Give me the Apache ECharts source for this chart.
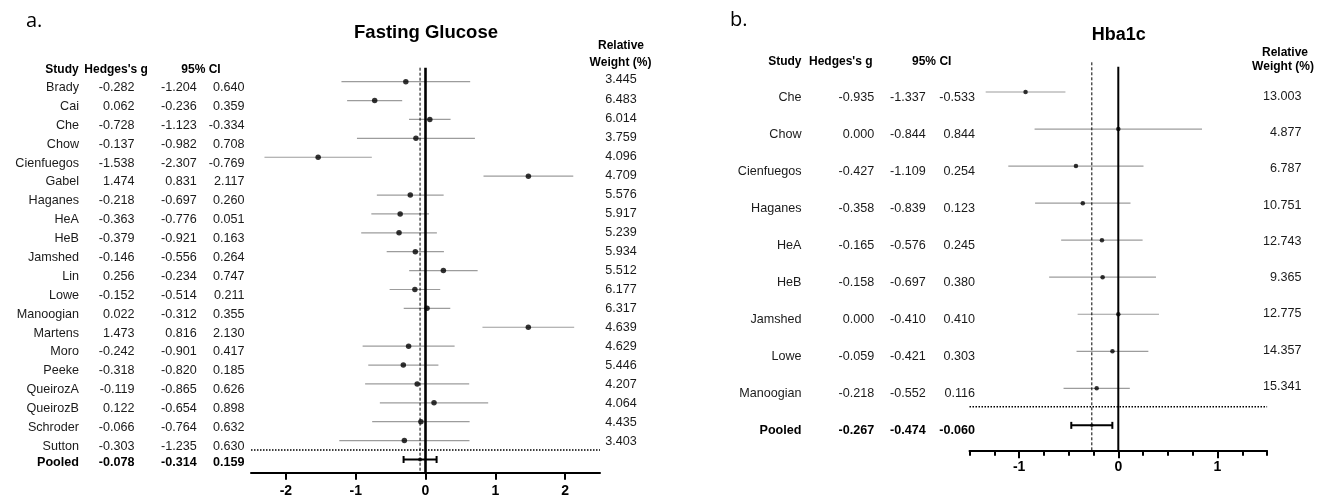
<!DOCTYPE html>
<html><head><meta charset="utf-8">
<script src="https://cdn.jsdelivr.net/npm/echarts@6/dist/echarts.min.js"></script>
<style>html,body{margin:0;padding:0;background:#fff}#c{width:1317px;height:495px}</style>
</head><body><div id="c"></div>
<script>
// ---------- Panel a: Fasting Glucose ----------
const studiesA = ['Brady','Cai','Che','Chow','Cienfuegos','Gabel','Haganes','HeA','HeB','Jamshed','Lin','Lowe','Manoogian','Martens','Moro','Peeke','QueirozA','QueirozB','Schroder','Sutton'];
const gA  = [-0.282,0.062,-0.728,-0.137,-1.538,1.474,-0.218,-0.363,-0.379,-0.146,0.256,-0.152,0.022,1.473,-0.242,-0.318,-0.119,0.122,-0.066,-0.303];
const loA = [-1.204,-0.236,-1.123,-0.982,-2.307,0.831,-0.697,-0.776,-0.921,-0.556,-0.234,-0.514,-0.312,0.816,-0.901,-0.820,-0.865,-0.654,-0.764,-1.235];
const hiA = [0.640,0.359,-0.334,0.708,-0.769,2.117,0.260,0.051,0.163,0.264,0.747,0.211,0.355,2.130,0.417,0.185,0.626,0.898,0.632,0.630];
const weightA = [3.445,6.483,6.014,3.759,4.096,4.709,5.576,5.917,5.239,5.934,5.512,6.177,6.317,4.639,4.629,5.446,4.207,4.064,4.435,3.403];
// row on which each study's mark is drawn in the figure (Cai and Che marks appear swapped in the original)
const markRowA = [0,2,1,3,4,5,6,7,8,9,10,11,12,13,14,15,16,17,18,19];
const pooledA = [-0.078,-0.314,0.159]; // g, lo, hi
const ticksA = [-2,-1,0,1,2];

// ---------- Panel b: Hba1c ----------
const studiesB = ['Che','Chow','Cienfuegos','Haganes','HeA','HeB','Jamshed','Lowe','Manoogian'];
const gB  = [-0.935,0.000,-0.427,-0.358,-0.165,-0.158,0.000,-0.059,-0.218];
const loB = [-1.337,-0.844,-1.109,-0.839,-0.576,-0.697,-0.410,-0.421,-0.552];
const hiB = [-0.533,0.844,0.254,0.123,0.245,0.380,0.410,0.303,0.116];
const weightB = [13.003,4.877,6.787,10.751,12.743,9.365,12.775,14.357,15.341];
const pooledB = [-0.267,-0.474,-0.060];
const ticksB = [-1,0,1];

const FONT = '"Liberation Sans", Arial, Helvetica, sans-serif';
const BODY = '12.6px ' + FONT;
const chart = echarts.init(document.getElementById('c'), null, {renderer:'canvas', width:1317, height:495});

const idx = n => Array.from({length:n}, (_, i) => i);
const f3 = v => v.toFixed(3);

function ciSeries(xi, yi, lo, hi, rows, color, width, z) {
  return {type:'custom', xAxisIndex:xi, yAxisIndex:yi, silent:true, clip:false, z:z,
    data: lo.map((v,i)=>[v, hi[i], rows[i]]),
    renderItem:(p,api)=>{
      const a = api.coord([api.value(0), api.value(2)]);
      const b = api.coord([api.value(1), api.value(2)]);
      return {type:'line', shape:{x1:a[0],y1:a[1],x2:b[0],y2:b[1]}, style:{stroke:color, lineWidth:width}};
    }};
}
function vline(xi, yi, x, yTop, yBot, width, dash, z) {
  return {type:'custom', xAxisIndex:xi, yAxisIndex:yi, silent:true, clip:false, z:z,
    data:[[x, yTop, yBot]],
    renderItem:(p,api)=>{
      const a = api.coord([api.value(0), api.value(1)]);
      const b = api.coord([api.value(0), api.value(2)]);
      return {type:'line', shape:{x1:a[0],y1:a[1],x2:b[0],y2:b[1]}, style:{stroke:'#000', lineWidth:width, lineDash:dash}};
    }};
}
function hline(xi, yi, x0, x1, row, z) {
  return {type:'custom', xAxisIndex:xi, yAxisIndex:yi, silent:true, clip:false, z:z,
    data:[[x0, x1, row]],
    renderItem:(p,api)=>{
      const a = api.coord([api.value(0), api.value(2)]);
      const b = api.coord([api.value(1), api.value(2)]);
      return {type:'line', shape:{x1:a[0],y1:a[1],x2:b[0],y2:b[1]}, style:{stroke:'#000', lineWidth:1.5, lineDash:[1.5,1.5]}};
    }};
}
function pooledBar(xi, yi, pooled, row, capH, z) {
  return {type:'custom', xAxisIndex:xi, yAxisIndex:yi, silent:true, clip:false, z:z,
    data:[[pooled[1], pooled[2], row]],
    renderItem:(p,api)=>{
      const a = api.coord([api.value(0), api.value(2)]);
      const b = api.coord([api.value(1), api.value(2)]);
      const st = {stroke:'#000', lineWidth:2};
      return {type:'group', children:[
        {type:'line', shape:{x1:a[0],y1:a[1],x2:b[0],y2:b[1]}, style:st},
        {type:'line', shape:{x1:a[0],y1:a[1]-capH,x2:a[0],y2:a[1]+capH}, style:st},
        {type:'line', shape:{x1:b[0],y1:b[1]-capH,x2:b[0],y2:b[1]+capH}, style:st}
      ]};
    }};
}
function colSeries(xi, yi, rows, texts, x, align, dy, bold) {
  return {type:'custom', xAxisIndex:xi, yAxisIndex:yi, silent:true, clip:false, z:6,
    data: rows.map(r=>[0, r]),
    renderItem:(p,api)=>{
      const y = api.coord([0, api.value(1)])[1] + dy;
      return {type:'text', x:x, y:y, style:{text:texts[p.dataIndex], fill: bold ? '#000' : '#1a1a1a',
        font:(bold?'bold ':'')+BODY, align:align, verticalAlign:'middle'}};
    }};
}
function points(xi, yi, g, rows, size) {
  return {type:'scatter', xAxisIndex:xi, yAxisIndex:yi, silent:true, z:8, symbol:'circle', symbolSize:size,
    itemStyle:{color:'#000'}, data: g.map((v,i)=>[v, rows[i]])};
}

const nA = studiesA.length, nB = studiesB.length;
const rowsA = idx(nA), rowsB = idx(nB);
const pooledRowA = nA, pooledRowB = nB;
const wRowsA = rowsA.map(i => -0.09 + 1.0085*i);
const wRowsB = rowsB.map(i => 0.116 + 0.9787*i);

const YA = [-0.741, 20.70];
const YB = [-0.802, 9.684];

const series = [
  // panel a
  ciSeries(0,0, loA, hiA, markRowA, '#9c9c9c', 1.2, 2),
  vline(0,0, 0, YA[0], YA[1], 2.6, null, 4),
  vline(0,0, pooledA[0], YA[0], YA[1], 1, [3,2], 3),
  hline(0,0, -2.5, 2.5, nA-0.5, 3),
  pooledBar(0,0, pooledA, pooledRowA, 3.5, 5),
  points(0,0, gA, markRowA, 5.5),
  points(0,0, [pooledA[0]], [pooledRowA], 4),
  colSeries(0,0, rowsA, studiesA, 79, 'right', 5.8, false),
  colSeries(0,0, rowsA, gA.map(f3), 134.5, 'right', 5.8, false),
  colSeries(0,0, rowsA, loA.map(f3), 196.7, 'right', 5.8, false),
  colSeries(0,0, rowsA, hiA.map(f3), 244.5, 'right', 5.8, false),
  colSeries(0,0, wRowsA, weightA.map(f3), 636.7, 'right', 0, false),
  colSeries(0,0, [pooledRowA], ['Pooled'], 79, 'right', 3, true),
  colSeries(0,0, [pooledRowA], [f3(pooledA[0])], 134.5, 'right', 3, true),
  colSeries(0,0, [pooledRowA], [f3(pooledA[1])], 196.7, 'right', 3, true),
  colSeries(0,0, [pooledRowA], [f3(pooledA[2])], 244.5, 'right', 3, true),
  // panel b
  ciSeries(1,1, loB, hiB, rowsB, '#9c9c9c', 1.2, 2),
  vline(1,1, 0, -0.683, YB[1], 2, null, 4),
  vline(1,1, pooledB[0], YB[0], YB[1], 1, [3,2], 3),
  hline(1,1, -1.5, 1.5, nB-0.5, 3),
  pooledBar(1,1, pooledB, pooledRowB, 3.5, 5),
  points(1,1, gB, rowsB, 4.5),
  points(1,1, [pooledB[0]], [pooledRowB], 3.5),
  colSeries(1,1, rowsB, studiesB, 801.5, 'right', 5.5, false),
  colSeries(1,1, rowsB, gB.map(f3), 874.3, 'right', 5.5, false),
  colSeries(1,1, rowsB, loB.map(f3), 925.7, 'right', 5.5, false),
  colSeries(1,1, rowsB, hiB.map(f3), 975, 'right', 5.5, false),
  colSeries(1,1, wRowsB, weightB.map(f3), 1301.5, 'right', 0, false),
  colSeries(1,1, [pooledRowB], ['Pooled'], 801.5, 'right', 4.7, true),
  colSeries(1,1, [pooledRowB], [f3(pooledB[0])], 874.3, 'right', 4.7, true),
  colSeries(1,1, [pooledRowB], [f3(pooledB[1])], 925.7, 'right', 4.7, true),
  colSeries(1,1, [pooledRowB], [f3(pooledB[2])], 975, 'right', 4.7, true)
];

function hdr(text, x, y, align, size, bold, family) {
  return {type:'text', x:x, y:y, silent:true, z:10, style:{text:text, fill:'#000',
    font:(bold?'bold ':'')+size+'px '+(family||FONT), align:align, verticalAlign:'middle'}};
}
const OPEN = '"Open Sans", "Liberation Sans", sans-serif';

const option = {
  animation:false,
  backgroundColor:'#fff',
  textStyle:{fontFamily:FONT},
  grid:[
    {left:251, top:67.7, width:349, height:405, outerBoundsMode:'none', containLabel:false},
    {left:969.5, top:62.3, width:297.6, height:388.4, outerBoundsMode:'none', containLabel:false}
  ],
  xAxis:[
    {gridIndex:0, type:'value', min:-2.5, max:2.5, position:'bottom',
     axisLine:{show:true, onZero:false, lineStyle:{color:'#000', width:2}},
     axisTick:{show:true, customValues:ticksA, length:7, lineStyle:{color:'#000', width:2}},
     axisLabel:{show:true, customValues:ticksA, color:'#000', fontWeight:'bold', fontSize:14, margin:11, fontFamily:FONT},
     splitLine:{show:false}},
    {gridIndex:1, type:'value', min:-1.5, max:1.5, interval:0.25, position:'bottom',
     axisLine:{show:true, onZero:false, lineStyle:{color:'#000', width:2}},
     axisTick:{show:true, length:5, lineStyle:{color:'#000', width:2}},
     axisLabel:{show:true, customValues:ticksB, color:'#000', fontWeight:'bold', fontSize:14, margin:9, fontFamily:FONT},
     splitLine:{show:false}},
    {gridIndex:1, type:'value', min:-1.5, max:1.5, position:'bottom', offset:0,
     axisLine:{show:false, onZero:false},
     axisTick:{show:true, customValues:ticksB, length:7.5, lineStyle:{color:'#000', width:2}},
     axisLabel:{show:false},
     splitLine:{show:false}}
  ],
  yAxis:[
    {gridIndex:0, type:'value', min:YA[0], max:YA[1], inverse:true, show:false, splitLine:{show:false}},
    {gridIndex:1, type:'value', min:YB[0], max:YB[1], inverse:true, show:false, splitLine:{show:false}}
  ],
  graphic:[
    hdr('a.', 26, 21, 'left', 20, false, OPEN),
    hdr('Fasting Glucose', 426, 32.5, 'center', 18.5, true),
    hdr('Relative', 621, 45.7, 'center', 12, true),
    hdr('Weight (%)', 620.5, 62.3, 'center', 12, true),
    hdr('Study', 78.7, 69.3, 'right', 12, true),
    hdr("Hedges's g", 84.3, 69.3, 'left', 12, true),
    hdr('95% CI', 201, 69.3, 'center', 12, true),
    hdr('b.', 730, 20.5, 'left', 20, false, OPEN),
    hdr('Hba1c', 1118.7, 35, 'center', 18, true),
    hdr('Relative', 1285, 52.5, 'center', 12, true),
    hdr('Weight (%)', 1283, 67, 'center', 12, true),
    hdr('Study', 801.5, 61.7, 'right', 12, true),
    hdr("Hedges's g", 809, 61.7, 'left', 12, true),
    hdr('95% CI', 931.7, 61.7, 'center', 12, true)
  ],
  series: series
};
chart.setOption(option);
</script></body></html>
